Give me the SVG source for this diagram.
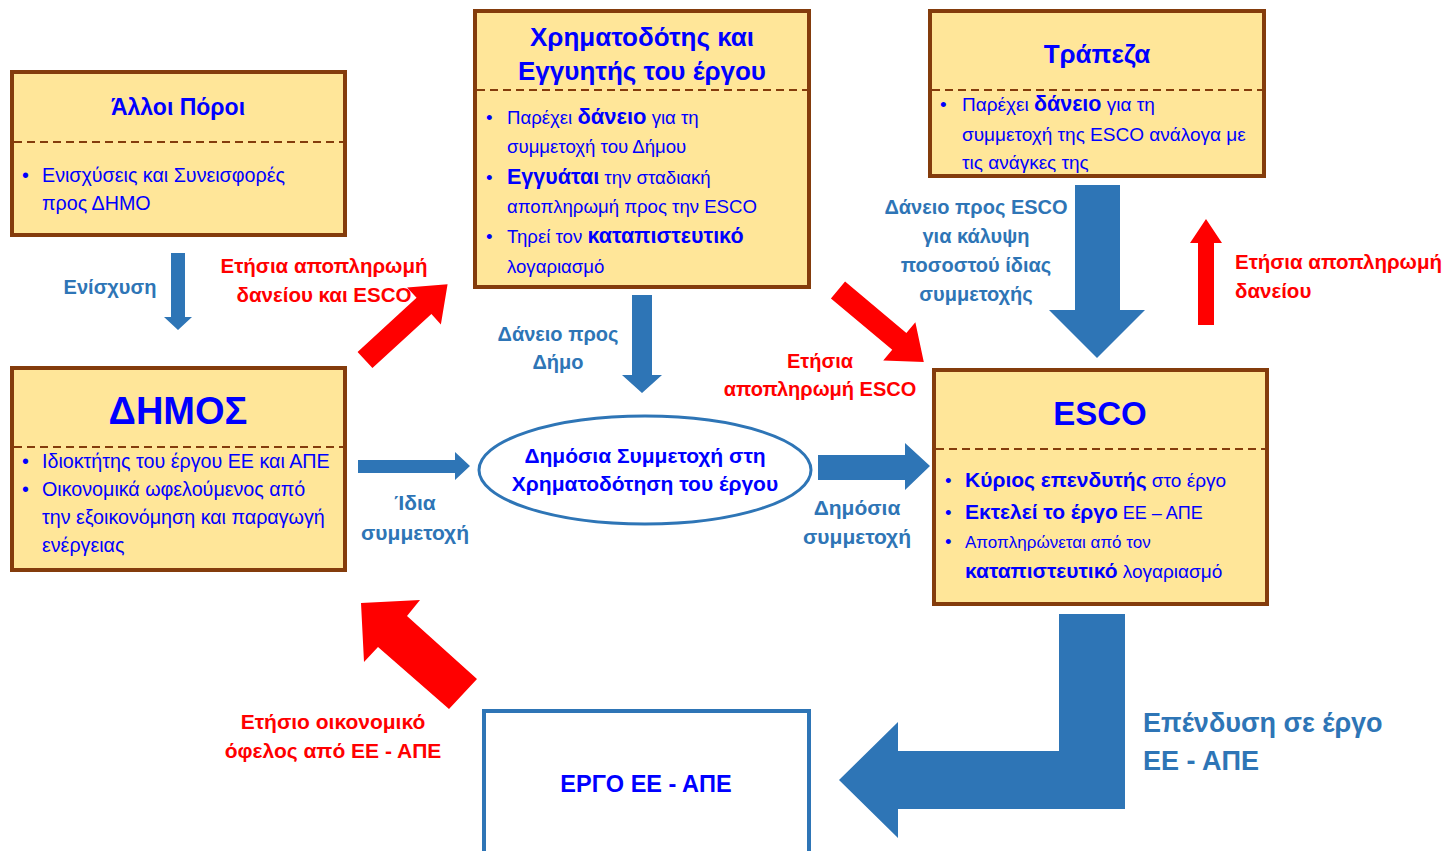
<svg xmlns="http://www.w3.org/2000/svg" width="1454" height="851" viewBox="0 0 1454 851">
<style>
text{font-family:"Liberation Sans",Arial,sans-serif}
.box{fill:#FFE699;stroke:#843C0C;stroke-width:4}
.dash{stroke:#843C0C;stroke-width:2;stroke-dasharray:8,5}
.ttl{fill:#0000FF;font-weight:bold;text-anchor:middle}
.bd{fill:#0000FF;font-size:19.7px}
.bd2{fill:#0000FF;font-size:18.6px}
.bd3{fill:#0000FF;font-size:17px}
.b{font-weight:bold}
.lb{fill:#2E75B6;font-weight:bold;font-size:20px;text-anchor:middle}
.lr{fill:#FF0000;font-weight:bold;font-size:20.5px;text-anchor:middle}
.ab{fill:#2E75B6}
.ar{fill:#FF0000}
</style>
<rect width="1454" height="851" fill="#FFFFFF"/>

<g id="alloi-poroi">
<rect class="box" x="12" y="72" width="333" height="163"/>
<line class="dash" x1="14" y1="142" x2="343" y2="142"/>
<text class="ttl" x="178" y="115" font-size="23">Άλλοι Πόροι</text>
<text class="bd" x="22" y="182">•</text>
<text class="bd" x="42" y="182">Ενισχύσεις και Συνεισφορές</text>
<text class="bd" x="42" y="210">προς ΔΗΜΟ</text>
</g>

<g id="xrimatodotis">
<rect class="box" x="475" y="11" width="334" height="276"/>
<line class="dash" x1="477" y1="90" x2="807" y2="90"/>
<text class="ttl" x="642" y="46" font-size="26">Χρηματοδότης και</text>
<text class="ttl" x="642" y="80" font-size="26">Εγγυητής του έργου</text>
<text class="bd2" x="486" y="124">•</text>
<text class="bd2" x="507" y="124">Παρέχει <tspan class="b" font-size="22">δάνειο</tspan> για τη</text>
<text class="bd2" x="507" y="153">συμμετοχή του Δήμου</text>
<text class="bd2" x="486" y="184">•</text>
<text class="bd2" x="507" y="184"><tspan class="b" font-size="21.5">Εγγυάται</tspan> την σταδιακή</text>
<text class="bd2" x="507" y="213">αποπληρωμή προς την ESCO</text>
<text class="bd2" x="486" y="243">•</text>
<text class="bd2" x="507" y="243">Τηρεί τον <tspan class="b" font-size="21.5">καταπιστευτικό</tspan></text>
<text class="bd2" x="507" y="273">λογαριασμό</text>
</g>

<g id="trapeza">
<rect class="box" x="930" y="11" width="334" height="165"/>
<line class="dash" x1="932" y1="90" x2="1262" y2="90"/>
<text class="ttl" x="1097" y="63" font-size="26">Τράπεζα</text>
<text class="bd2" x="940" y="111" style="font-size:19px">•</text>
<text class="bd2" x="962" y="111" style="font-size:19px">Παρέχει <tspan class="b" font-size="21.5">δάνειο</tspan> για τη</text>
<text class="bd2" x="962" y="141" style="font-size:19px">συμμετοχή της ESCO ανάλογα με</text>
<text class="bd2" x="962" y="169" style="font-size:19px">τις ανάγκες της</text>
</g>

<g id="dimos">
<rect class="box" x="12" y="368" width="333" height="202"/>
<line class="dash" x1="14" y1="447" x2="343" y2="447"/>
<text class="ttl" x="178" y="424" font-size="38">ΔΗΜΟΣ</text>
<text class="bd" x="22" y="468">•</text>
<text class="bd" x="42" y="468">Ιδιοκτήτης του έργου ΕΕ και ΑΠΕ</text>
<text class="bd" x="22" y="496">•</text>
<text class="bd" x="42" y="496">Οικονομικά ωφελούμενος από</text>
<text class="bd" x="42" y="524">την εξοικονόμηση και παραγωγή</text>
<text class="bd" x="42" y="552">ενέργειας</text>
</g>

<g id="esco">
<rect class="box" x="934" y="370" width="333" height="234"/>
<line class="dash" x1="936" y1="449" x2="1265" y2="449"/>
<text class="ttl" x="1100" y="425" font-size="33">ESCO</text>
<text class="bd2" x="945" y="487">•</text>
<text class="bd3" x="965" y="487" style="font-size:19px"><tspan class="b" font-size="21">Κύριος επενδυτής</tspan> στο έργο</text>
<text class="bd2" x="945" y="519">•</text>
<text class="bd3" x="965" y="519" style="font-size:18px"><tspan class="b" font-size="21">Εκτελεί το έργο</tspan> ΕΕ – ΑΠΕ</text>
<text class="bd2" x="945" y="548">•</text>
<text class="bd3" x="965" y="548">Αποπληρώνεται από τον</text>
<text class="bd3" x="965" y="578" style="font-size:19px"><tspan class="b" font-size="21">καταπιστευτικό</tspan> λογαριασμό</text>
</g>

<g id="dimosia-symmetoxi">
<ellipse cx="645" cy="470" rx="166" ry="54" fill="#FFFFFF" stroke="#2E75B6" stroke-width="3"/>
<text class="ttl" x="645" y="463" font-size="21">Δημόσια Συμμετοχή στη</text>
<text class="ttl" x="645" y="491" font-size="21">Χρηματοδότηση του έργου</text>
</g>

<g id="ergo">
<rect x="484" y="711" width="325" height="150" fill="#FFFFFF" stroke="#2E75B6" stroke-width="4"/>
<text class="ttl" x="646" y="792" font-size="23.5">ΕΡΓΟ ΕΕ - ΑΠΕ</text>
</g>

<g id="connectors">
<polygon class="ab" points="171,253 185,253 185,317 192,317 178,330 164,317 171,317"/>
<text class="lb" x="110" y="294">Ενίσχυση</text>
<polygon class="ar" points="0,-11 80,-11 80,-25 112,0 80,25 80,11 0,11" transform="translate(365,360) rotate(-42.5)"/>
<text class="lr" x="324" y="273">Ετήσια αποπληρωμή</text>
<text class="lr" x="324" y="302">δανείου και ESCO</text>
<polygon class="ab" points="632,295 652,295 652,375 662,375 642,393 622,375 632,375"/>
<text class="lb" x="558" y="341">Δάνειο προς</text>
<text class="lb" x="558" y="369">Δήμο</text>
<polygon class="ar" points="0,-11 80,-11 80,-25 112,0 80,25 80,11 0,11" transform="translate(838,290) rotate(40)"/>
<text class="lr" x="820" y="368" style="font-size:20px">Ετήσια</text>
<text class="lr" x="820" y="396" style="font-size:20px">αποπληρωμή ESCO</text>
<polygon class="ab" points="1075,185 1120,185 1120,310 1145,310 1097,358 1049,310 1075,310"/>
<text class="lb" x="976" y="214">Δάνειο προς ESCO</text>
<text class="lb" x="976" y="243">για κάλυψη</text>
<text class="lb" x="976" y="272">ποσοστού ίδιας</text>
<text class="lb" x="976" y="301">συμμετοχής</text>
<polygon class="ar" points="1198,325 1214,325 1214,243 1222,243 1206,219 1190,243 1198,243"/>
<text class="lr" x="1235" y="269" style="text-anchor:start">Ετήσια αποπληρωμή</text>
<text class="lr" x="1235" y="298" style="text-anchor:start">δανείου</text>
<polygon class="ab" points="358,460 455,460 455,452 470,466 455,480 455,473 358,473"/>
<text class="lb" x="415" y="510" style="font-size:21px">Ίδια</text>
<text class="lb" x="415" y="540" style="font-size:21px">συμμετοχή</text>
<polygon class="ab" points="818,455 905,455 905,443 930,466 905,490 905,480 818,480"/>
<text class="lb" x="857" y="515" style="font-size:21px">Δημόσια</text>
<text class="lb" x="857" y="544" style="font-size:21px">συμμετοχή</text>
<polygon class="ab" points="1059,614 1125,614 1125,809 898,809 898,838 839,780 898,722 898,751 1059,751"/>
<text class="lb" x="1143" y="732" style="text-anchor:start;font-size:27px">Επένδυση σε έργο</text>
<text class="lb" x="1143" y="770" style="text-anchor:start;font-size:27px">ΕΕ - ΑΠΕ</text>
<polygon class="ar" points="361,603 420,600 407,616 477,679 449,709 378,647 364,662"/>
<text class="lr" x="333" y="729" style="font-size:21px">Ετήσιο οικονομικό</text>
<text class="lr" x="333" y="758" style="font-size:21px">όφελος από ΕΕ - ΑΠΕ</text>
</g>
</svg>
